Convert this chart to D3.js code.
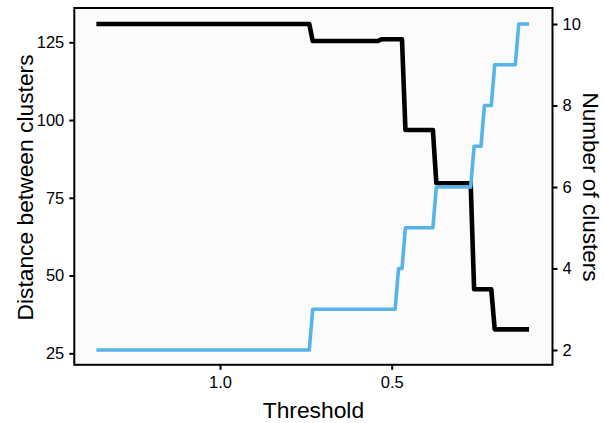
<!DOCTYPE html>
<html>
<head>
<meta charset="utf-8">
<script src="https://cdn.jsdelivr.net/npm/d3@7"></script>
<style>
  html, body { margin: 0; padding: 0; background: #ffffff; }
  svg { display: block; }
  text { font-family: "Liberation Sans", Arial, Helvetica, sans-serif; fill: #000; }
</style>
</head>
<body>
<svg id="chart" width="604" height="423"></svg>
<script>
// ---- data ----
const thresholds = [1.36, 0.74, 0.73, 0.54, 0.53, 0.49, 0.48, 0.47, 0.46, 0.38, 0.37, 0.27, 0.26, 0.24, 0.23, 0.21, 0.20, 0.14, 0.13, 0.10];
const distance   = [130.9, 130.9, 125.4, 125.4, 126.0, 126.0, 126.0, 126.0, 96.8, 96.8, 79.7, 79.7, 45.6, 45.6, 45.6, 45.6, 32.7, 32.7, 32.7, 32.7];
const nClusters  = [2, 2, 3, 3, 3, 3, 4, 4, 5, 5, 6, 6, 7, 7, 8, 8, 9, 9, 10, 10];
const xTicks = [1.0, 0.5];
const yLeftTicks = [25, 50, 75, 100, 125];
const yRightTicks = [2, 4, 6, 8, 10];
const xLabel = "Threshold";
const yLeftLabel = "Distance between clusters";
const yRightLabel = "Number of clusters";

// ---- layout ----
const panel = { x0: 74.3, x1: 552.5, y0: 8, y1: 364.8 };
const svg = d3.select("#chart");

const x = d3.scaleLinear().domain([1.4243, 0.0317]).range([panel.x0, panel.x1]);
const yL = d3.scaleLinear().domain([21.3, 136.03]).range([panel.y1, panel.y0]);
const yR = d3.scaleLinear().domain([1.637, 10.393]).range([panel.y1, panel.y0]);

// panel background
svg.append("rect")
  .attr("x", panel.x0).attr("y", panel.y0)
  .attr("width", panel.x1 - panel.x0).attr("height", panel.y1 - panel.y0)
  .attr("fill", "#fbfbfb");

const pts = thresholds.map((t, i) => ({ t, d: distance[i], n: nClusters[i] }));

const lineD = d3.line().x(p => x(p.t)).y(p => yL(p.d));
const lineN = d3.line().x(p => x(p.t)).y(p => yR(p.n));

svg.append("path").datum(pts).attr("d", lineD)
  .attr("fill", "none").attr("stroke", "#000000").attr("stroke-width", 4.6)
  .attr("stroke-linejoin", "round").attr("stroke-linecap", "butt");

svg.append("path").datum(pts).attr("d", lineN)
  .attr("fill", "none").attr("stroke", "#56B4E9").attr("stroke-width", 3.6)
  .attr("stroke-linejoin", "round").attr("stroke-linecap", "butt");

// panel border
svg.append("rect")
  .attr("x", panel.x0).attr("y", panel.y0)
  .attr("width", panel.x1 - panel.x0).attr("height", panel.y1 - panel.y0)
  .attr("fill", "none").attr("stroke", "#000").attr("stroke-width", 2);

// axes
function styleAxis(g) {
  g.select(".domain").remove();
  g.selectAll(".tick line").attr("stroke", "#000").attr("stroke-width", 2);
  g.selectAll(".tick text").style("font-size", "16.5px")
    .style("font-family", '"Liberation Sans", Arial, sans-serif').attr("fill", "#000");
}

svg.append("g").attr("transform", `translate(0,${panel.y1})`)
  .call(d3.axisBottom(x).tickValues(xTicks).tickFormat(d3.format(".1f")).tickSize(5).tickPadding(6))
  .call(styleAxis);

svg.append("g").attr("transform", `translate(${panel.x0},0)`)
  .call(d3.axisLeft(yL).tickValues(yLeftTicks).tickSize(5).tickPadding(5))
  .call(styleAxis);

svg.append("g").attr("transform", `translate(${panel.x1},0)`)
  .call(d3.axisRight(yR).tickValues(yRightTicks).tickSize(5).tickPadding(5))
  .call(styleAxis);

// titles
svg.append("text").attr("x", (panel.x0 + panel.x1) / 2).attr("y", 418)
  .attr("text-anchor", "middle").style("font-size", "22.8px").text(xLabel);

svg.append("text").attr("transform", "translate(33,187.5) rotate(-90)")
  .attr("text-anchor", "middle").style("font-size", "22.8px").text(yLeftLabel);

svg.append("text").attr("transform", "translate(583,187) rotate(90)")
  .attr("text-anchor", "middle").style("font-size", "22.5px").text(yRightLabel);
</script>
</body>
</html>
